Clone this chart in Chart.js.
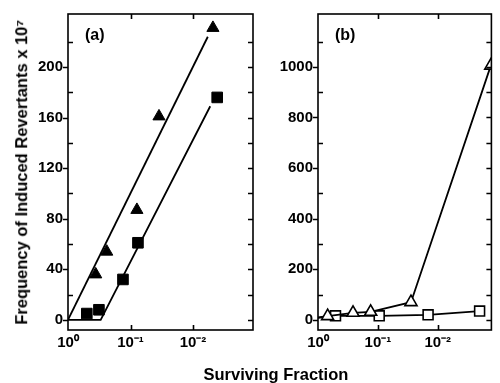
<!DOCTYPE html>
<html>
<head>
<meta charset="utf-8">
<script src="https://cdn.jsdelivr.net/npm/chart.js@4.4.1/dist/chart.umd.min.js"></script>
<style>
  html, body { margin:0; padding:0; background:#fff; }
  #wrap { position:relative; width:500px; height:383px; overflow:hidden; background:#fff; }
  canvas { position:absolute; top:0; }
  .lbl { position:absolute; font-family:'Liberation Sans', Arial, sans-serif; font-weight:bold; color:#000; white-space:nowrap; line-height:1; }
</style>
</head>
<body>
<div id="wrap">
  <canvas id="ca" width="262" height="383" style="left:0px"></canvas>
  <canvas id="cb" width="238" height="383" style="left:262px"></canvas>
  <div class="lbl" id="ytitle" style="font-size:16.5px;">Frequency of Induced Revertants x 10⁷</div>
  <div class="lbl" id="xtitle" style="font-size:16.5px;">Surviving Fraction</div>
  <div class="lbl" id="pa" style="font-size:16px;">(a)</div>
  <div class="lbl" id="pb" style="font-size:16px;">(b)</div>
</div>
<script>
// ---- tick definitions ----
const xTicks = [1, 0.1, 0.01];
const xTickLabels = ['10⁰', '10⁻¹', '10⁻²'];
const yMajorA = [0, 40, 80, 120, 160, 200];
const yMinorA = [20, 60, 100, 140, 180, 220];
const yMajorB = [0, 200, 400, 600, 800, 1000];
const yMinorB = [100, 300, 500, 700, 900, 1100];

// ---- panel (a) data ----
const sfTriA  = [0.36, 0.24, 0.079, 0.035, 0.0048];
const revTriA = [36, 54, 87, 161, 231];
const sfSqA   = [0.50, 0.32, 0.132, 0.076, 0.0041];
const revSqA  = [5, 8, 32, 61, 176];
const fitTriSF  = [1, 0.0058];
const fitTriRev = [0, 224];
const fitSqSF   = [1, 0.30, 0.0053];
const fitSqRev  = [0, 0, 169];

// ---- panel (b) data ----
const sfTriB  = [1, 0.69, 0.26, 0.132, 0.028, 0.0013];
const revTriB = [10, 15, 28, 32, 70, 1005];
const sfSqB   = [1, 0.51, 0.095, 0.0145, 0.0020];
const revSqB  = [8, 16, 16, 20, 35];

const pts = (xs, ys) => xs.map((x, i) => ({x: x, y: ys[i]}));

Chart.defaults.font.family = "'Liberation Sans', Arial, sans-serif";
Chart.defaults.font.weight = 'bold';
Chart.defaults.font.size = 15;
Chart.defaults.color = '#000';
Chart.defaults.animation = false;

const framePlugin = {
  id: 'frame',
  afterDraw(chart, args, opts) {
    const ctx = chart.ctx;
    const {left, right, top, bottom} = chart.chartArea;
    const xs = chart.scales.x, ys = chart.scales.y;
    ctx.save();
    ctx.strokeStyle = '#000';
    ctx.lineWidth = 1.6;
    ctx.strokeRect(left, top, right - left, bottom - top);
    ctx.beginPath();
    opts.major.forEach(v => {
      const y = Math.round(ys.getPixelForValue(v)) + 0.5;
      ctx.moveTo(left - 5, y); ctx.lineTo(left, y);
      ctx.moveTo(right, y); ctx.lineTo(right - 5, y);
    });
    opts.minor.forEach(v => {
      const y = Math.round(ys.getPixelForValue(v)) + 0.5;
      ctx.moveTo(left, y); ctx.lineTo(left + 5, y);
      ctx.moveTo(right, y); ctx.lineTo(right - 5, y);
    });
    xTicks.slice(1).forEach(v => {
      const x = Math.round(xs.getPixelForValue(v)) + 0.5;
      ctx.moveTo(x, top); ctx.lineTo(x, top + 5);
      ctx.moveTo(x, bottom); ctx.lineTo(x, bottom - 5);
    });
    ctx.stroke();
    ctx.restore();
  }
};

function makeScales(xMin, yMin, yMax, major, minor, yWidth) {
  return {
    x: {
      type: 'logarithmic', reverse: true, min: xMin, max: 1,
      grid: {display: false, drawTicks: false}, border: {display: false},
      afterBuildTicks: s => { s.ticks = xTicks.map(v => ({value: v})); },
      afterFit: s => { s.height = 53; },
      ticks: {
        autoSkip: false, maxRotation: 0, padding: 4,
        font: {size: 15, weight: 'bold'},
        callback: v => { const i = xTicks.indexOf(v); return i >= 0 ? xTickLabels[i] : ''; }
      }
    },
    y: {
      type: 'linear', min: yMin, max: yMax,
      grid: {display: false, drawTicks: false}, border: {display: false},
      afterBuildTicks: s => { s.ticks = major.concat(minor).sort((a, b) => a - b).map(v => ({value: v})); },
      afterFit: s => { s.width = yWidth; },
      ticks: {
        autoSkip: false, padding: 5,
        font: {size: 15, weight: 'bold'},
        callback: v => (major.indexOf(v) >= 0 ? String(v) : '')
      }
    }
  };
}

const commonOpts = {
  responsive: false,
  maintainAspectRatio: false,
  plugins: {legend: {display: false}, tooltip: {enabled: false}},
  elements: {line: {tension: 0}}
};

new Chart(document.getElementById('ca'), {
  type: 'scatter',
  data: {
    datasets: [
      {data: pts(fitTriSF, fitTriRev), showLine: true, borderColor: '#000', borderWidth: 1.8, pointRadius: 0},
      {data: pts(fitSqSF, fitSqRev), showLine: true, borderColor: '#000', borderWidth: 1.8, pointRadius: 0},
      {data: pts(sfTriA, revTriA), showLine: false, pointStyle: 'triangle', pointRadius: 7,
       backgroundColor: '#000', borderColor: '#000', borderWidth: 1},
      {data: pts(sfSqA, revSqA), showLine: false, pointStyle: 'rect', pointRadius: 7.5,
       backgroundColor: '#000', borderColor: '#000', borderWidth: 1}
    ]
  },
  options: Object.assign({}, commonOpts, {
    layout: {padding: {top: 13, right: 9, left: 0, bottom: 0}},
    scales: makeScales(Math.pow(10, -2.96), -8, 242, yMajorA, yMinorA, 68),
    plugins: Object.assign({}, commonOpts.plugins, {frame: {major: yMajorA, minor: yMinorA}})
  }),
  plugins: [framePlugin]
});

new Chart(document.getElementById('cb'), {
  type: 'scatter',
  data: {
    datasets: [
      {data: pts(sfTriB, revTriB), showLine: true, borderColor: '#000', borderWidth: 1.8,
       pointStyle: 'triangle', pointRadius: sfTriB.map((v, i) => i === 0 ? 0 : 7),
       backgroundColor: '#fff', pointBorderColor: '#000', pointBorderWidth: 1.6},
      {data: pts(sfSqB, revSqB), showLine: true, borderColor: '#000', borderWidth: 1.8,
       pointStyle: 'rect', pointRadius: sfSqB.map((v, i) => i === 0 ? 0 : 7),
       backgroundColor: '#fff', pointBorderColor: '#000', pointBorderWidth: 1.6}
    ]
  },
  options: Object.assign({}, commonOpts, {
    layout: {padding: {top: 13, right: 1, left: 0, bottom: 0}},
    scales: makeScales(Math.pow(10, -2.896), -40, 1209, yMajorB, yMinorB, 56),
    plugins: Object.assign({}, commonOpts.plugins, {frame: {major: yMajorB, minor: yMinorB}})
  }),
  plugins: [framePlugin]
});

// position text labels
function place(id, cx, cy, rot) {
  const el = document.getElementById(id);
  const w = el.offsetWidth, h = el.offsetHeight;
  el.style.left = (cx - w / 2) + 'px';
  el.style.top = (cy - h / 2) + 'px';
  if (rot) el.style.transform = 'rotate(' + rot + 'deg)';
}
place('ytitle', 21, 172, -90);
place('xtitle', 276, 374, 0);
place('pa', 95, 35, 0);
place('pb', 345, 35, 0);
</script>
</body>
</html>
